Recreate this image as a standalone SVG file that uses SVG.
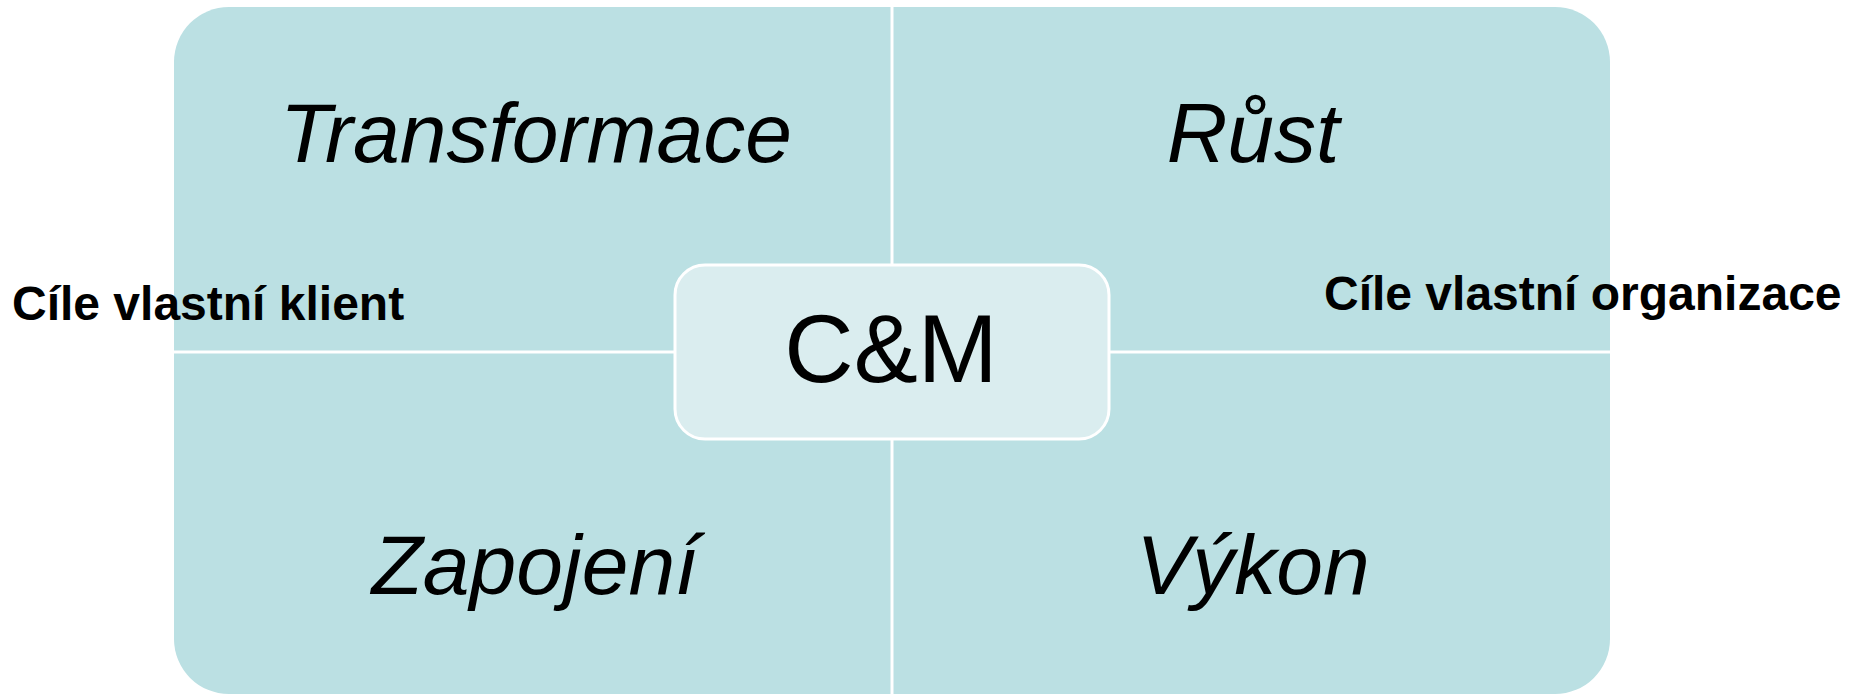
<svg xmlns="http://www.w3.org/2000/svg" width="1849" height="695" viewBox="0 0 1849 695">
<style>
.q{fill:#bbe0e3;}
.t{font-family:"Liberation Sans",Arial,sans-serif;font-style:italic;font-size:84px;fill:#000;text-anchor:middle;}
.lbl{font-family:"Liberation Sans",Arial,sans-serif;font-weight:bold;font-size:48px;fill:#000;}
.c{fill:#daedef;stroke:#fff;stroke-width:3;}
.cm{font-family:"Liberation Sans",Arial,sans-serif;font-size:96px;fill:#000;text-anchor:middle;}
</style>
<rect width="1849" height="695" fill="#fff"/>
<g id="q-transformace">
<path class="q" d="M174,62 A55,55 0 0 1 229,7 L890.5,7 L890.5,350.5 L174,350.5 Z"/>
<text class="t" x="536" y="162">Transformace</text>
</g>
<g id="q-rust">
<path class="q" d="M893.5,7 L1555,7 A55,55 0 0 1 1610,62 L1610,350.5 L893.5,350.5 Z"/>
<text class="t" x="1253" y="162">Růst</text>
</g>
<g id="q-zapojeni">
<path class="q" d="M174,353.5 L890.5,353.5 L890.5,694 L229,694 A55,55 0 0 1 174,639 Z"/>
<text class="t" x="535" y="594">Zapojení</text>
</g>
<g id="q-vykon">
<path class="q" d="M893.5,353.5 L1610,353.5 L1610,639 A55,55 0 0 1 1555,694 L893.5,694 Z"/>
<text class="t" x="1253" y="594">Výkon</text>
</g>
<g id="connectors"></g>
<g id="center">
<rect class="c" x="675" y="265" width="434" height="174" rx="30" ry="30"/>
<text class="cm" x="891" y="382">C&amp;M</text>
</g>
<g id="label-left">
<text class="lbl" x="12" y="320">Cíle vlastní klient</text>
</g>
<g id="label-right">
<text class="lbl" x="1324" y="310">Cíle vlastní organizace</text>
</g>
</svg>
